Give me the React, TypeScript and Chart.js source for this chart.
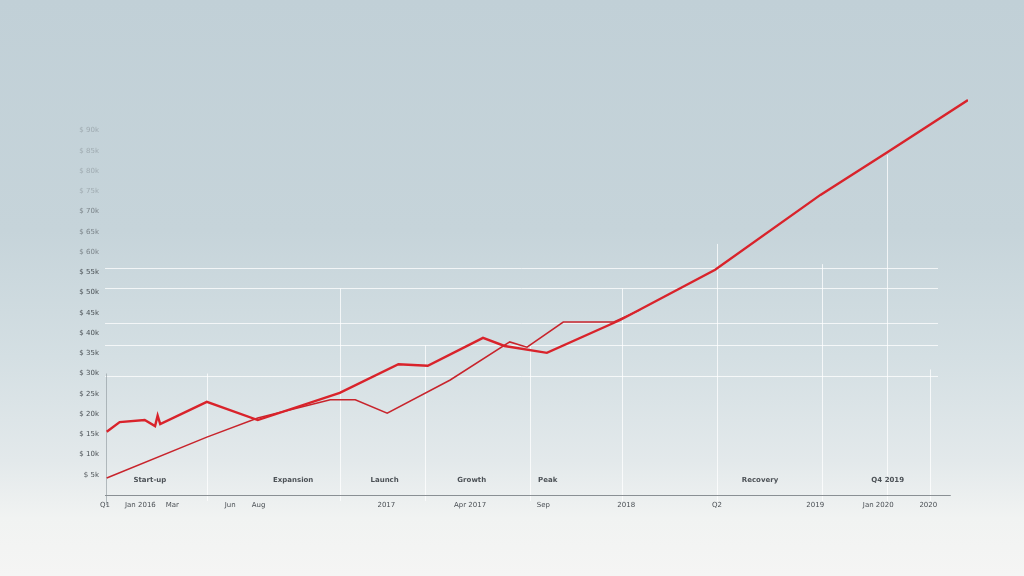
import React, { useEffect, useRef } from "react";
import { Chart, registerables } from "chart.js";

Chart.register(...registerables);

// Upper (thicker) series
const seriesAX = [0.2, 1.7, 4.6, 5.8, 6.1, 6.4, 11.8, 17.7, 27.2, 34.0, 37.4, 43.8, 46.3, 51.2, 59.7, 70.7, 82.9, 90.7, 100];
const seriesAY = [15.6, 18.0, 18.5, 17.0, 19.6, 17.5, 23.0, 18.5, 25.2, 32.3, 31.9, 38.8, 36.8, 35.1, 43.2, 55.6, 74.1, 84.7, 97.5];

// Lower (thinner) series
const seriesBX = [0.2, 11.8, 17.7, 26.1, 29.0, 32.7, 40.0, 46.9, 48.9, 53.1, 58.9, 62.0];
const seriesBY = [4.2, 14.3, 19.0, 23.5, 23.5, 20.2, 28.4, 37.8, 36.5, 42.7, 42.7, 45.7];

// X tick labels
const xTickValues = [0, 4.1, 7.8, 14.5, 17.8, 32.6, 42.3, 50.8, 60.4, 70.9, 82.3, 89.6, 95.4];
const xTickLabels = ["Q1", "Jan 2016", "Mar", "Jun", "Aug", "2017", "Apr 2017", "Sep", "2018", "Q2", "2019", "Jan 2020", "2020"];

// Phase annotations above the axis
const phaseX = [5.2, 21.8, 32.4, 42.5, 51.3, 75.9, 90.7];
const phaseLabels = ["Start-up", "Expansion", "Launch", "Growth", "Peak", "Recovery", "Q4 2019"];

// Y ticks
const yTickValues = [5, 10, 15, 20, 25, 30, 35, 40, 45, 50, 55, 60, 65, 70, 75, 80, 85, 90];

// Grid marker lines
const vGridX = [11.8, 27.2, 37.1, 49.2, 59.9, 70.9, 83.1, 90.6, 95.6];
const vGridTop = [30, 51, 37, 37, 51, 62, 57, 84, 31];
const hGridY = [56, 51.1, 42.5, 37, 29.4];
const axisEnd = 98;

const toPoints = (xs: number[], ys: number[]) => xs.map((x, i) => ({ x, y: ys[i] }));

const gridPlugin = {
  id: "customGrid",
  beforeDatasetsDraw(chart: any) {
    const { ctx, chartArea, scales } = chart;
    const xs = scales.x;
    const ys = scales.y;
    ctx.save();
    ctx.lineWidth = 1;
    ctx.strokeStyle = "rgba(255,255,255,0.75)";
    hGridY.forEach((v) => {
      const y = Math.round(ys.getPixelForValue(v)) + 0.5;
      ctx.beginPath();
      ctx.moveTo(chartArea.left, y);
      ctx.lineTo(chartArea.right - 30, y);
      ctx.stroke();
    });
    vGridX.forEach((v, i) => {
      const x = Math.round(xs.getPixelForValue(v)) + 0.5;
      ctx.beginPath();
      ctx.moveTo(x, chartArea.bottom + 6);
      ctx.lineTo(x, ys.getPixelForValue(vGridTop[i]));
      ctx.stroke();
    });
    // faint y axis line
    ctx.strokeStyle = "rgba(140,150,155,0.6)";
    ctx.beginPath();
    const x0 = Math.round(xs.getPixelForValue(0)) + 1.5;
    ctx.moveTo(x0, chartArea.bottom + 10);
    ctx.lineTo(x0, ys.getPixelForValue(30));
    ctx.stroke();
    // x axis line
    ctx.strokeStyle = "#8a9094";
    ctx.lineWidth = 1.2;
    ctx.beginPath();
    const yb = Math.round(ys.getPixelForValue(0)) + 0.5;
    ctx.moveTo(chartArea.left, yb);
    ctx.lineTo(xs.getPixelForValue(axisEnd), yb);
    ctx.stroke();
    // phase labels
    ctx.fillStyle = "#4d5257";
    ctx.font = "bold 7px 'DejaVu Sans'";
    ctx.textAlign = "center";
    ctx.textBaseline = "middle";
    phaseX.forEach((v, i) => {
      ctx.fillText(phaseLabels[i], xs.getPixelForValue(v), chartArea.bottom - 15);
    });
    ctx.restore();
  },
};

export default function App() {
  const ref = useRef<HTMLCanvasElement | null>(null);

  useEffect(() => {
    if (!ref.current) return;
    const chart = new Chart(ref.current, {
      type: "scatter",
      data: {
        datasets: [
          {
            label: "Series A",
            data: toPoints(seriesAX, seriesAY),
            showLine: true,
            borderColor: "#d9232b",
            borderWidth: 2.4,
            pointRadius: 0,
            tension: 0,
          },
          {
            label: "Series B",
            data: toPoints(seriesBX, seriesBY),
            showLine: true,
            borderColor: "#c8242c",
            borderWidth: 1.5,
            pointRadius: 0,
            tension: 0,
          },
        ],
      },
      options: {
        responsive: false,
        animation: false,
        layout: { padding: { top: 90, right: 56, left: 0, bottom: 0 } },
        plugins: { legend: { display: false }, tooltip: { enabled: false } },
        scales: {
          x: {
            type: "linear",
            min: 0,
            max: 100,
            afterBuildTicks: (s: any) => {
              s.ticks = xTickValues.map((v) => ({ value: v }));
            },
            afterFit: (s: any) => {
              s.height = 81;
            },
            grid: { display: false, drawTicks: false },
            border: { display: false },
            ticks: {
              autoSkip: false,
              maxRotation: 0,
              padding: 6,
              color: "#4a4f54",
              font: { family: "DejaVu Sans", size: 7 },
              callback: (_v: any, i: number) => xTickLabels[i],
            },
          },
          y: {
            type: "linear",
            min: 0,
            max: 100,
            afterBuildTicks: (s: any) => {
              s.ticks = yTickValues.map((v) => ({ value: v }));
            },
            afterFit: (s: any) => {
              s.width = 105;
            },
            grid: { display: false, drawTicks: false },
            border: { display: false },
            ticks: {
              padding: 6,
              font: { family: "DejaVu Sans", size: 7 },
              color: (c: any) => {
                const v = c.tick ? c.tick.value : 0;
                if (v <= 55) return "rgba(60,65,70,0.9)";
                if (v <= 70) return "rgba(70,75,80,0.6)";
                return "rgba(90,95,100,0.35)";
              },
              callback: (v: any) => "$ " + v + "k",
            },
          },
        },
      },
      plugins: [gridPlugin],
    });
    return () => chart.destroy();
  }, []);

  return (
    <div
      style={{
        position: "fixed",
        left: 0,
        top: 0,
        width: 1024,
        height: 576,
        background:
          "linear-gradient(to bottom, #c1d0d7 0%, #c6d4da 40%, #d4dfe3 62%, #e3e9eb 80%, #f1f3f2 90%, #f5f5f4 100%)",
      }}
    >
      <canvas ref={ref} width={1024} height={576} style={{ display: "block" }} />
    </div>
  );
}
